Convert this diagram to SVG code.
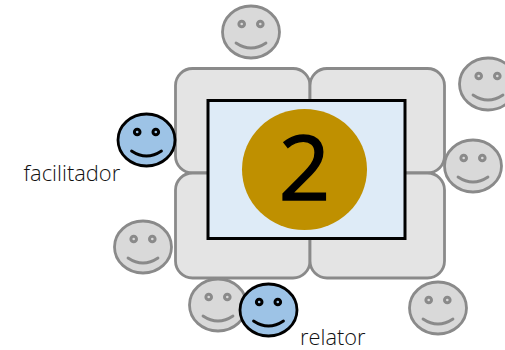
<svg xmlns="http://www.w3.org/2000/svg" width="505" height="350" viewBox="0 0 505 350">
<style>
.table{fill:#e4e4e4;stroke:#8a8a8a;stroke-width:2.8}
.head{stroke-width:2.8}
.eye{fill:none;stroke-width:3}
.smile{fill:none;stroke-width:2.8;stroke-linecap:round}
.grey .head{fill:#d9d9d9;stroke:#8a8a8a}
.grey .eye,.grey .smile{stroke:#8a8a8a}
.blue .head{fill:#9dc3e6;stroke:#000}
.blue .eye,.blue .smile{stroke:#000}
text{font-family:"Open Sans","Liberation Sans",sans-serif;font-weight:300;fill:#111}
</style>
<defs>
<g id="face-grey" class="grey">
<ellipse class="head" cx="0" cy="0" rx="28.5" ry="26"/>
<circle class="eye" cx="-9.3" cy="-8" r="2.8"/>
<circle class="eye" cx="9.3" cy="-8" r="2.8"/>
<path class="smile" d="M-15 11Q0 21 15 11"/>
</g>
<g id="face-blue" class="blue">
<ellipse class="head" cx="0" cy="0" rx="28.5" ry="26"/>
<circle class="eye" cx="-9.3" cy="-8" r="2.8"/>
<circle class="eye" cx="9.3" cy="-8" r="2.8"/>
<path class="smile" d="M-15 11Q0 21 15 11"/>
</g>
</defs>
<g id="table-tl"><rect class="table" x="175.5" y="68.5" width="134.5" height="104.5" rx="17"/></g>
<g id="table-tr"><rect class="table" x="310" y="68.5" width="134.5" height="104.5" rx="17"/></g>
<g id="table-bl"><rect class="table" x="175.5" y="173" width="134.5" height="105" rx="17"/></g>
<g id="table-br"><rect class="table" x="310" y="173" width="134.5" height="105" rx="17"/></g>
<g id="screen">
<rect x="208" y="100.5" width="197" height="138" fill="#deebf7" stroke="#000" stroke-width="3"/>
<ellipse cx="304.5" cy="169.5" rx="62.5" ry="60.5" fill="#bf9000"/>
<text x="304.5" y="200" font-size="90" text-anchor="middle" stroke="#000" stroke-width="1.6" style="fill:#000;font-weight:400">2</text>
</g>
<g id="person-top"><use href="#face-grey" x="251" y="32"/></g>
<g id="person-right-top"><use href="#face-grey" x="488" y="84"/></g>
<g id="person-right"><use href="#face-grey" x="473" y="166"/></g>
<g id="person-left"><use href="#face-grey" x="143" y="247"/></g>
<g id="person-bottom"><use href="#face-grey" x="218" y="305"/></g>
<g id="person-bottom-right"><use href="#face-grey" x="438" y="308"/></g>
<g id="facilitador"><use href="#face-blue" x="146.5" y="140"/><text x="23.5" y="181" font-size="21.9">facilitador</text></g>
<g id="relator"><use href="#face-blue" x="268.5" y="310"/><text x="300" y="345" font-size="21.8">relator</text></g>
</svg>
